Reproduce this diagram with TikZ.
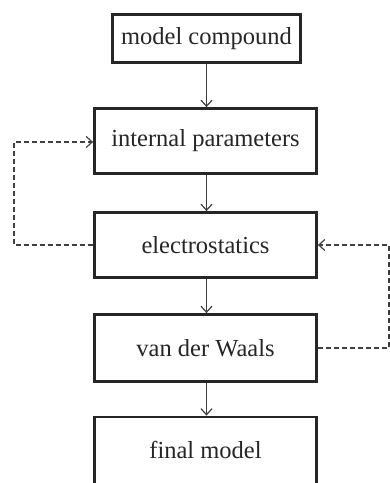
\documentclass[tikz,border=0pt]{standalone}
\usepackage{fontspec}
\setmainfont{Liberation Serif}
\usetikzlibrary{arrows.meta}
\begin{document}
\begin{tikzpicture}[x=1pt,y=-1pt,
  box/.style={draw=black!85, line width=2.8pt, minimum width=222pt, minimum height=65pt,
    inner sep=0pt, font=\fontsize{24.5}{27}\selectfont, text=black!85},
  flow/.style={draw=black!75, line width=1.2pt, -{Straight Barb[length=6pt,width=11pt,line width=1.2pt]}},
  fb/.style={draw=black!75, line width=1.2pt, dash pattern=on 5pt off 3pt,
    -{Straight Barb[length=6pt,width=11pt,line width=1.2pt]}}]
\useasboundingbox (0,0) rectangle (390,483);
\clip (0,0) rectangle (390,483);
\fill[white] (0,0) rectangle (390,483);
\node[box, minimum width=188pt, minimum height=48pt] (mc) at (206.5,38.5) {model compound};
\node[box] (ip) at (205.5,141) {internal parameters};
\node[box] (es) at (205.5,245) {electrostatics};
\node[box, minimum height=67pt] (vw) at (205.5,348) {van der Waals};
\node[box, minimum height=76pt, text depth=10pt] (fm) at (205.5,455) {final model};
\coordinate (l1) at (14,245);
\coordinate (l2) at (14,142);
\coordinate (r1) at (389,348);
\coordinate (r2) at (389,245);
\draw[flow] (mc.south -| 206.5,0) -- (ip.north -| 206.5,0);
\draw[flow] (ip.south -| 206.5,0) -- (es.north -| 206.5,0);
\draw[flow] (es.south -| 206.5,0) -- (vw.north -| 206.5,0);
\draw[flow] (vw.south -| 206.5,0) -- (fm.north -| 206.5,0);
\draw[fb] (es.west) -- (l1) -- (l2) -- (ip.west |- l2);
\draw[fb] (vw.east) -- (r1) -- (r2) -- (es.east);
\end{tikzpicture}
\end{document}
